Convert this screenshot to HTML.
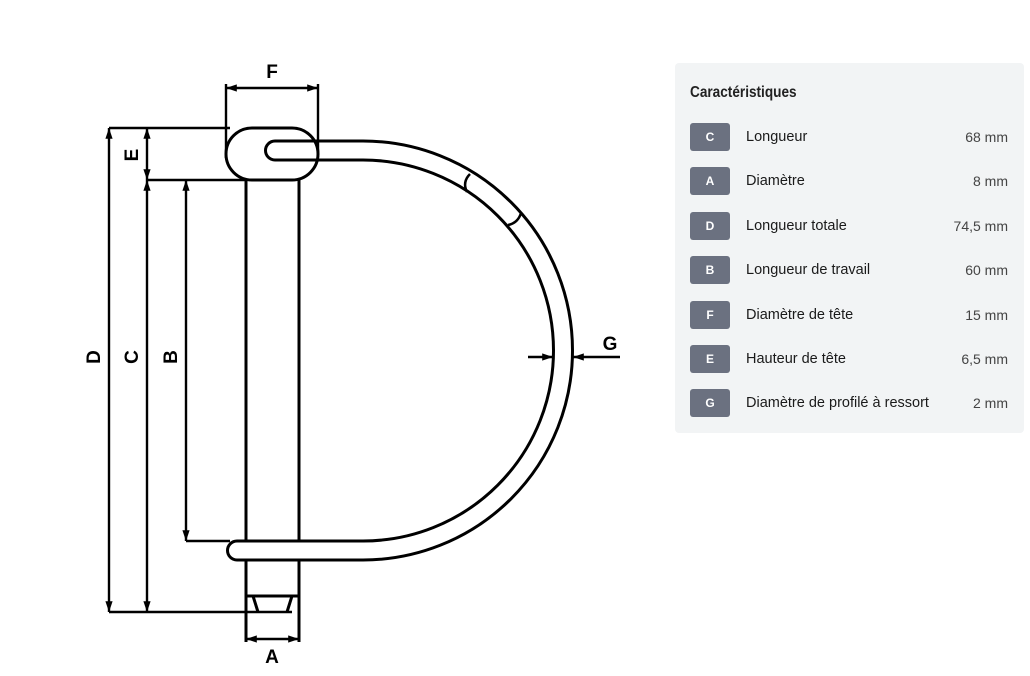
<!DOCTYPE html>
<html><head><meta charset="utf-8"><style>
body{margin:0;width:1030px;height:676px;background:#fff;position:relative;overflow:hidden;font-family:"Liberation Sans",sans-serif;}
svg{position:absolute;left:0;top:0}
.panel{position:absolute;left:675px;top:63px;width:349px;height:370px;background:#f2f4f5;border-radius:4px}
.title{position:absolute;left:15px;top:21px;font-size:16px;font-weight:bold;color:#222;transform:scaleX(0.85);transform-origin:left}
.row{position:absolute;left:15px;width:318px;height:28px}
.b{position:absolute;left:0;top:0;width:40px;height:28px;background:#6b7180;border-radius:3px;color:#fff;font-size:12px;font-weight:bold;text-align:center;line-height:28px}
.l{position:absolute;left:56px;top:0;line-height:28px;font-size:14.5px;color:#1a1a1a}
.v{position:absolute;right:0;top:0;line-height:28px;font-size:14px;color:#444}
</style></head><body>
<svg width="1030" height="676" viewBox="0 0 1030 676">
<defs><marker id="ar" viewBox="0 0 12 10" refX="12" refY="5" markerWidth="12" markerHeight="9" orient="auto-start-reverse" markerUnits="userSpaceOnUse"><path d="M0,1 L12,5 L0,9 z" fill="#000"/></marker></defs>
<g fill="none" stroke="#000" stroke-width="3">
<path d="M318,141 L363,141 A209,209 0 0 1 363,560 L237,560 A9.5,9.5 0 0 1 237,541 L363,541 A190.5,190.5 0 0 0 363,160 L275,160 A9.5,9.5 0 0 1 275,141 L318,141"/>
<rect x="226" y="128" width="92" height="52" rx="26"/>
<line x1="246" y1="180" x2="246" y2="541"/><line x1="299" y1="180" x2="299" y2="541"/>
<line x1="246" y1="560" x2="246" y2="642"/><line x1="299" y1="560" x2="299" y2="642"/>
<path d="M246,596 L299,596 M253,596 L258,612 M292,596 L287,612"/>
<path d="M470,174 Q462,182 467,192" stroke-width="2.5"/>
<path d="M521,213 Q518,223 508,225" stroke-width="2.5"/>
</g>
<g fill="none" stroke="#000" stroke-width="2.4">
<line x1="109" y1="128" x2="230" y2="128"/>
<line x1="147" y1="180" x2="246" y2="180"/>
<line x1="186" y1="541" x2="230" y2="541"/>
<line x1="109" y1="612" x2="292" y2="612"/>
<line x1="226" y1="84" x2="226" y2="158"/>
<line x1="318" y1="84" x2="318" y2="155"/>
<line x1="109" y1="128" x2="109" y2="612" marker-start="url(#ar)" marker-end="url(#ar)"/>
<line x1="147" y1="128" x2="147" y2="180" marker-start="url(#ar)" marker-end="url(#ar)"/>
<line x1="147" y1="180" x2="147" y2="612" marker-start="url(#ar)" marker-end="url(#ar)"/>
<line x1="186" y1="180" x2="186" y2="541" marker-start="url(#ar)" marker-end="url(#ar)"/>
<line x1="226" y1="88" x2="318" y2="88" marker-start="url(#ar)" marker-end="url(#ar)"/>
<line x1="246" y1="639" x2="299" y2="639" marker-start="url(#ar)" marker-end="url(#ar)"/>
<line x1="528" y1="357" x2="553" y2="357" marker-end="url(#ar)"/>
<line x1="620" y1="357" x2="573" y2="357" marker-end="url(#ar)"/>
</g>
<g font-family="Liberation Sans" font-size="19" font-weight="bold" fill="#000" text-anchor="middle">
<text x="272" y="78">F</text>
<text x="272" y="663">A</text>
<text x="610" y="350">G</text>
<text transform="translate(100,357) rotate(-90)">D</text>
<text transform="translate(138,357) rotate(-90)">C</text>
<text transform="translate(177,357) rotate(-90)">B</text>
<text transform="translate(138,155) rotate(-90)">E</text>
</g>
</svg>
<div class="panel">
<div class="title">Caractéristiques</div>
<div class="row" style="top:60px"><div class="b">C</div><div class="l">Longueur</div><div class="v">68 mm</div></div>
<div class="row" style="top:104px"><div class="b">A</div><div class="l">Diamètre</div><div class="v">8 mm</div></div>
<div class="row" style="top:149px"><div class="b">D</div><div class="l">Longueur totale</div><div class="v">74,5 mm</div></div>
<div class="row" style="top:193px"><div class="b">B</div><div class="l">Longueur de travail</div><div class="v">60 mm</div></div>
<div class="row" style="top:238px"><div class="b">F</div><div class="l">Diamètre de tête</div><div class="v">15 mm</div></div>
<div class="row" style="top:282px"><div class="b">E</div><div class="l">Hauteur de tête</div><div class="v">6,5 mm</div></div>
<div class="row" style="top:326px"><div class="b">G</div><div class="l">Diamètre de profilé à ressort</div><div class="v">2 mm</div></div>
</div>
</body></html>
